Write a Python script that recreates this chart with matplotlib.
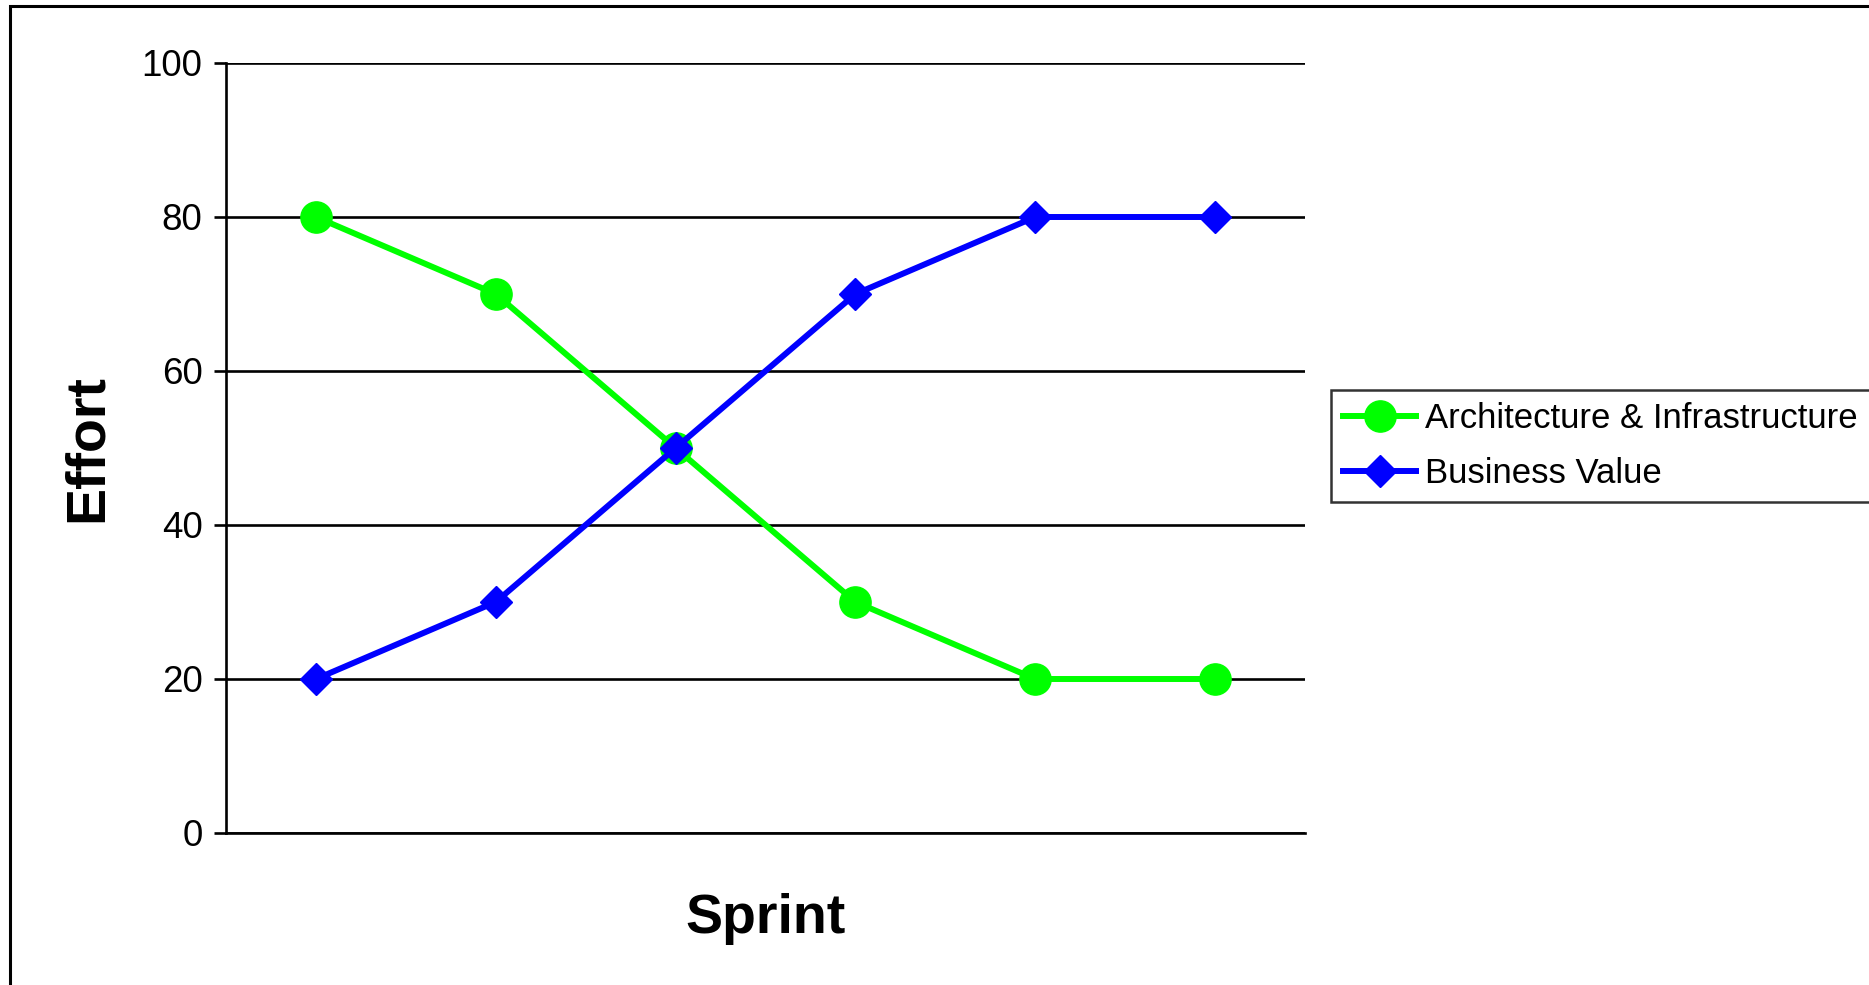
#!/usr/bin/env python3
# -*- coding: utf-8 -*-

import matplotlib.pyplot as plt
from matplotlib.patches import Rectangle

plt.rcParams["font.family"] = ["Liberation Sans", "DejaVu Sans"]

# ====== Data ======
sprints = ["1", "2", "3", "4", "5", "6"]
arch_infra = [80, 70, 50, 30, 20, 20]
business_value = [20, 30, 50, 70, 80, 80]
y_ticks = [0, 20, 40, 60, 80, 100]

W, H = 1869, 985
fig = plt.figure(figsize=(W / 100, H / 100), dpi=100)

# axes box in pixel coords of the reference
left, right, top, bottom = 226, 1305, 63, 833
ax = fig.add_axes([left / W, 1 - bottom / H, (right - left) / W, (bottom - top) / H])

x = list(range(len(sprints)))
ax.plot(x, arch_infra, "-o", color="#00FF00", linewidth=4.3, markersize=22.5,
        label="Architecture & Infrastructure", zorder=3)
ax.plot(x, business_value, "-D", color="#0000FF", linewidth=4.3, markersize=16,
        label="Business Value", zorder=4)

ax.set_xlim(-0.5, len(sprints) - 0.5)
ax.set_ylim(0, 100)
ax.set_yticks(y_ticks)
ax.set_xticks([])

# --- grid / spines ---
ax.grid(True, axis="y", color="black", linewidth=1.9, linestyle="-")
ax.set_axisbelow(True)
for side in ["top", "right"]:
    ax.spines[side].set_visible(False)
ax.spines["left"].set_linewidth(1.9)
ax.spines["bottom"].set_linewidth(1.9)
ax.tick_params(axis="y", labelsize=26.5, length=9, width=1.9, pad=8)

ax.set_xlabel("Sprint", fontsize=40, fontweight="bold", labelpad=43)
ax.set_ylabel("Effort", fontsize=40, fontweight="bold", labelpad=20)

# --- legend ---
leg = ax.legend(
    loc="center left",
    bbox_to_anchor=(1331 / W, 1 - 446 / H),
    bbox_transform=fig.transFigure,
    fontsize=25,
    frameon=True,
    fancybox=False,
    edgecolor="black",
    handlelength=2.1,
    handletextpad=0.25,
    borderpad=0.35,
    labelspacing=0.65,
    borderaxespad=0,
)
leg.get_frame().set_linewidth(1.8)

# --- outer frame of the chart area ---
fig.patches.append(Rectangle((10 / W, -0.1), 1.2, 1.1 - 6 / H, transform=fig.transFigure,
                             fill=False, edgecolor="black", linewidth=2.2))

fig.savefig("out.png", dpi=100)
plt.close(fig)
